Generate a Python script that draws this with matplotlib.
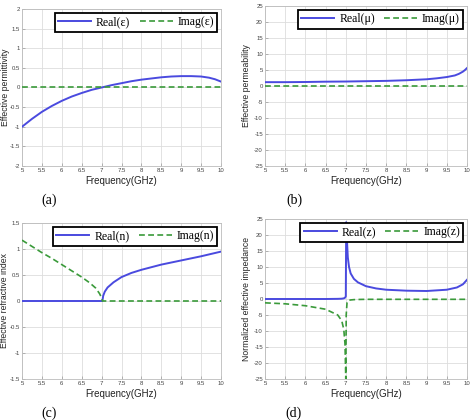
import matplotlib
matplotlib.use("Agg")
import matplotlib.pyplot as plt
import numpy as np

plt.rcParams['font.family'] = ['Liberation Sans', 'DejaVu Sans']

# ---- data ----
f_eps = [5.0, 5.25, 5.5, 5.75, 6.0, 6.25, 6.5, 6.75, 7.0, 7.25, 7.5, 7.75, 8.0, 8.25, 8.5, 8.75, 9.0, 9.25, 9.5, 9.7, 9.85, 10.0]
re_eps = [-1.0, -0.8, -0.62, -0.47, -0.34, -0.23, -0.14, -0.06, 0.0, 0.06, 0.11, 0.16, 0.2, 0.23, 0.26, 0.28, 0.29, 0.29, 0.28, 0.25, 0.21, 0.15]
im_eps = [0.0] * len(f_eps)

f_mu = [5.0, 5.5, 6.0, 6.5, 7.0, 7.5, 8.0, 8.5, 9.0, 9.25, 9.5, 9.7, 9.8, 9.9, 9.95, 10.0]
re_mu = [1.2, 1.2, 1.25, 1.35, 1.4, 1.5, 1.6, 1.8, 2.1, 2.4, 2.8, 3.3, 3.8, 4.5, 5.0, 5.6]
im_mu = [0.0] * len(f_mu)

f_n = [5.0, 5.25, 5.5, 5.75, 6.0, 6.25, 6.5, 6.7, 6.85, 6.95, 7.0, 7.02, 7.04, 7.08, 7.15, 7.3, 7.5, 7.75, 8.0, 8.5, 9.0, 9.5, 10.0]
re_n = [0.0, 0.0, 0.0, 0.0, 0.0, 0.0, 0.0, 0.0, 0.0, 0.0, 0.0, 0.0, 0.1, 0.18, 0.26, 0.36, 0.46, 0.54, 0.6, 0.7, 0.78, 0.86, 0.95]
im_n = [1.17, 1.05, 0.93, 0.82, 0.7, 0.58, 0.46, 0.35, 0.25, 0.14, 0.06, 0.0, 0.0, 0.0, 0.0, 0.0, 0.0, 0.0, 0.0, 0.0, 0.0, 0.0, 0.0]

f_z = [5.0, 5.5, 6.0, 6.5, 6.8, 6.9, 6.95, 6.98, 7.0, 7.01, 7.03, 7.05, 7.08, 7.12, 7.2, 7.3, 7.5, 7.75, 8.0, 8.5, 9.0, 9.5, 9.75, 9.9, 10.0]
re_z = [0.0, 0.0, 0.0, 0.0, 0.05, 0.1, 0.2, 0.4, 0.8, 24.0, 18.0, 13.0, 10.0, 8.0, 6.3, 5.2, 4.0, 3.3, 2.9, 2.6, 2.5, 2.9, 3.6, 4.6, 6.0]
im_z = [-1.2, -1.5, -2.1, -3.2, -5.0, -6.8, -9.5, -14.0, -25.0, -5.0, -1.2, -0.6, -0.4, -0.3, -0.2, -0.15, -0.1, -0.1, -0.1, -0.1, -0.1, -0.1, -0.1, -0.1, -0.1]

xticks = [5, 5.5, 6, 6.5, 7, 7.5, 8, 8.5, 9, 9.5, 10]
xticklabels = ["5", "5.5", "6", "6.5", "7", "7.5", "8", "8.5", "9", "9.5", "10"]

panels = [
    dict(f=f_eps, re=re_eps, im=im_eps, ylim=(-2, 2), yticks=[-2, -1.5, -1, -0.5, 0, 0.5, 1, 1.5, 2],
         yticklabels=["-2", "-1.5", "-1", "-0.5", "0", "0.5", "1", "1.5", "2"],
         ylabel="Effective permittivity", leg=("Real(ε)", "Imag(ε)"), tag="(a)",
         rect=(22, 9, 221, 166), ylx=9.5),
    dict(f=f_mu, re=re_mu, im=im_mu, ylim=(-25, 25), yticks=list(range(-25, 26, 5)),
         yticklabels=[str(v) for v in range(-25, 26, 5)],
         ylabel="Effective permeability", leg=("Real(μ)", "Imag(μ)"), tag="(b)",
         rect=(265, 6, 467, 166), ylx=251),
    dict(f=f_n, re=re_n, im=im_n, ylim=(-1.5, 1.5), yticks=[-1.5, -1, -0.5, 0, 0.5, 1, 1.5],
         yticklabels=["-1.5", "-1", "-0.5", "0", "0.5", "1", "1.5"],
         ylabel="Effective refractive index", leg=("Real(n)", "Imag(n)"), tag="(c)",
         rect=(22, 223, 221, 379), ylx=9.5),
    dict(f=f_z, re=re_z, im=im_z, ylim=(-25, 25), yticks=list(range(-25, 26, 5)),
         yticklabels=[str(v) for v in range(-25, 26, 5)],
         ylabel="Normalized effective impedance", leg=("Real(z)", "Imag(z)"), tag="(d)",
         rect=(265, 219, 467, 379), ylx=251),
]

W, H = 471, 420
fig = plt.figure(figsize=(W / 100, H / 100), dpi=100)
fig.patch.set_facecolor("white")

blue = "#4a4adf"
green = "#3a9a3a"

for p in panels:
    l, t, r, b = p["rect"]
    ax = fig.add_axes([l / W, 1 - b / H, (r - l) / W, (b - t) / H])
    ax.plot(p["f"], p["re"], color=blue, lw=1.4, label=p["leg"][0], zorder=3)
    ax.plot(p["f"], p["im"], color=green, lw=1.2, ls=(0, (3.5, 2)), label=p["leg"][1], zorder=3)
    ax.set_xlim(5, 10)
    ax.set_ylim(*p["ylim"])
    ax.set_xticks(xticks)
    ax.set_xticklabels(xticklabels)
    ax.set_yticks(p["yticks"])
    ax.set_yticklabels(p["yticklabels"])
    ax.tick_params(direction="in", labelsize=4.3, length=2, width=0.5, color="#999999", pad=1.5,
                   labelcolor="#444444")
    ax.grid(True, color="#dddddd", lw=0.6)
    ax.set_axisbelow(True)
    for s in ax.spines.values():
        s.set_color("#bbbbbb")
        s.set_linewidth(0.6)
    ax.set_xlabel("Frequency(GHz)", fontsize=7, labelpad=2, color="#222222")
    ax.set_ylabel(p["ylabel"], fontsize=6.2, color="#222222")
    ax.yaxis.set_label_coords((p["ylx"] - l) / (r - l), 0.5)
    leg = ax.legend(loc="upper right", ncol=2, frameon=True, fancybox=False,
                    prop={"family": "Liberation Serif", "size": 8.5},
                    borderaxespad=0.3, handlelength=2.8, handletextpad=0.4, columnspacing=0.8,
                    borderpad=0.3)
    leg.get_frame().set_edgecolor("black")
    leg.get_frame().set_linewidth(1.3)
    leg.get_frame().set_alpha(1)
    leg.set_zorder(5)
    fig.text(((l + r) / 2 - 72) / W, 1 - (b + 34) / H, p["tag"],
             fontsize=10, family="Liberation Serif", ha="center", va="center")

fig.savefig("out.png", dpi=100)
